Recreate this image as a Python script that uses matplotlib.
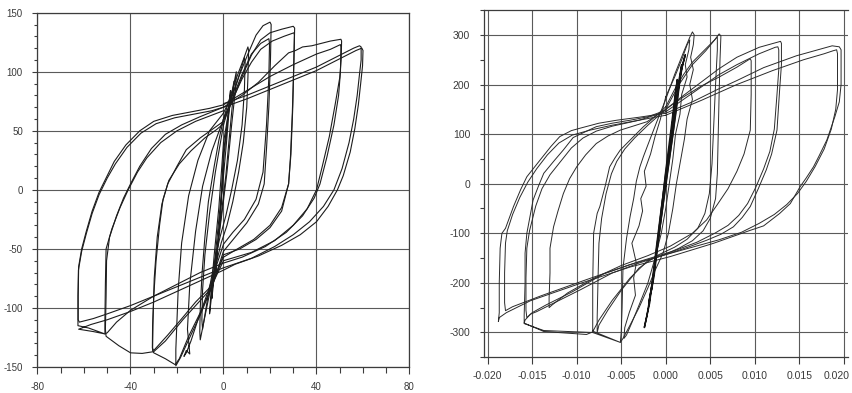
import matplotlib
matplotlib.use("Agg")
import matplotlib.pyplot as plt
import matplotlib.transforms as mtransforms
from matplotlib.ticker import MultipleLocator

plt.rcParams['font.family'] = ['Liberation Sans', 'DejaVu Sans']

# ---- left chart: load (kN) vs displacement (mm) ----
left_xticks = [-80, -40, 0, 40, 80]
left_xlabels = ["-80", "-40", "0", "40", "80"]
left_yticks = [-150, -100, -50, 0, 50, 100, 150]
left_ylabels = ["-150", "-100", "-50", "0", "50", "100", "150"]

loop_s1 = [(0, 25), (1.5, 55), (3, 84), (2.7, 74), (1.2, 38), (-0.8, -5), (-2, -35),
           (-3.3, -70), (-3, -60), (-1.5, -25), (0, 25)]
loop_s2 = [(0, 32), (2, 62), (4.5, 92), (4.2, 80), (3, 55), (1, 12), (-1.5, -30),
           (-3, -55), (-5, -92), (-4.6, -78), (-3, -45), (-1, -5), (0, 32)]
loop_s3 = [(0, 40), (2.5, 70), (5.5, 100), (5.2, 86), (3.5, 55), (1.5, 15), (-1, -25),
           (-3.5, -62), (-6, -105), (-5.5, -90), (-4, -55), (-2, -15), (0, 40)]
loop_10a = [(0, 60), (3, 80), (6, 97), (8.5, 110), (10.5, 121), (10.8, 118), (10.5, 95),
            (10, 70), (8.5, 40), (6.5, 15), (4, -10), (1.5, -30), (-1, -45), (-3.5, -65),
            (-6, -88), (-8.5, -112), (-10, -127), (-10.2, -120), (-10, -100), (-9.2, -70),
            (-8, -40), (-6.5, -10), (-4, 20), (-2, 42), (0, 60)]
loop_10b = [(0, 55), (3, 75), (6, 92), (9, 112), (9.3, 108), (9, 85), (8, 55), (6, 25),
            (3.5, 0), (1, -22), (-1.5, -40), (-4, -62), (-6.5, -88), (-9, -118),
            (-9.3, -110), (-9, -85), (-8, -55), (-6, -20), (-3.5, 15), (-1.5, 38), (0, 55)]
loop_20a = [(0, 65), (4, 82), (7, 98), (10.5, 115), (14, 131), (17, 139), (20, 142),
            (20.5, 140), (20.2, 110), (19.5, 70), (18.5, 35), (17.5, 5), (15, -12),
            (10, -28), (5, -40), (0, -52), (-5, -82), (-10, -106), (-15, -127),
            (-18.5, -142), (-20.5, -149), (-20.5, -135), (-20, -110), (-19.5, -85),
            (-18, -45), (-15, -5), (-11, 25), (-6, 50), (0, 65)]
loop_20b = [(0, 60), (4, 78), (8, 98), (12, 115), (16, 124), (19.5, 128), (19.8, 124),
            (19.5, 95), (18.5, 55), (17, 15), (14, -8), (9, -25), (4, -36), (0, -46),
            (-3, -64), (-7, -88), (-11, -110), (-14, -128), (-16, -138), (-17, -141),
            (-16, -136), (-14.5, -139), (-15.5, -118), (-14.5, -80), (-12, -35),
            (-9, 3), (-5, 33), (0, 60)]
loop_30a = [(0, 58), (4, 76), (8, 96), (12, 114), (16, 127), (20, 133), (25, 136),
            (30, 138.5), (30.6, 137), (30.3, 110), (29.8, 70), (29, 30), (28, 5),
            (25, -18), (20, -32), (14, -42), (7, -50), (0, -55), (-5, -82), (-10, -104),
            (-15, -124), (-19, -143), (-20.8, -148), (-25, -143), (-30, -138),
            (-30.5, -136), (-30.3, -110), (-29.8, -75), (-28.5, -40), (-26.5, -12),
            (-24, 5), (-20, 20), (-16, 34), (-10, 44), (-5, 51), (0, 58)]
loop_30b = [(0, 60), (4, 77), (8, 94), (12, 108), (16, 119), (21, 126), (26, 130),
            (30.3, 133), (30.5, 131), (30.2, 105), (29.6, 65), (28.8, 28), (28, 5),
            (25, -15), (20, -30), (13, -42), (6, -50), (0, -57), (-6, -83), (-12, -95),
            (-17.5, -108), (-24, -123), (-30, -136), (-30.6, -134), (-30.5, -115),
            (-30, -90), (-29, -60), (-27.5, -30), (-26, -8), (-23.5, 8), (-19, 22),
            (-14, 33), (-8, 44), (-3, 51), (0, 56)]
loop_50a = [(0, 70), (8, 80), (15, 91), (22, 105), (28, 116), (31, 118), (34, 121),
            (38, 122), (42, 124), (46, 126), (50.5, 127.5), (50.8, 126), (50.6, 110),
            (50, 95), (48, 72), (45.5, 45), (42.5, 20), (40, 0), (36, -16), (30, -30),
            (22, -43), (12, -53), (0, -60), (-6, -85), (-17.5, -110), (-25, -128),
            (-30, -137), (-35, -138.5), (-40, -138), (-45, -132), (-50.5, -124),
            (-50.8, -118), (-50.5, -90), (-50.3, -60), (-49, -40), (-46, -22), (-43, -7),
            (-40, 5), (-36, 20), (-31, 35), (-25, 47), (-18, 55), (-10, 62), (0, 70)]
loop_50b = [(0, 72), (10, 84), (20, 96), (30, 106), (40, 115), (46, 119), (50.3, 123),
            (50.5, 121), (50.3, 100), (49.5, 80), (47.5, 55), (44.5, 28), (41.5, 5),
            (39, -7), (34, -22), (27, -36), (18, -48), (8, -57), (0, -62), (-10, -70),
            (-20, -80), (-30, -90), (-40, -102), (-46, -112), (-50, -121), (-51, -122),
            (-51, -110), (-50.8, -80), (-50.5, -50), (-48, -33), (-44.5, -15), (-41, 0),
            (-37, 15), (-33, 27), (-27, 40), (-20, 50), (-12, 58), (0, 67)]
loop_60a = [(0, 73), (10, 80), (20, 88), (30, 96), (40, 104), (48, 112), (53, 117),
            (56, 120), (58.5, 122), (59.2, 121), (59.2, 110), (58.5, 98), (57.5, 80),
            (56, 60), (54, 40), (51, 18), (47.5, 0), (43, -14), (37, -27), (30, -38),
            (22, -48), (12, -58), (0, -66), (-10, -74), (-20, -82), (-30, -90),
            (-40, -98), (-50, -105), (-56, -109), (-62, -112), (-62.5, -110),
            (-62.5, -90), (-62.3, -65), (-61, -50), (-59, -35), (-56.5, -18),
            (-53.5, -2), (-50, 12), (-47, 24), (-42, 38), (-36, 50), (-30, 58),
            (-22, 63), (-14, 66), (-6, 69), (0, 72)]
loop_60b = [(0, 70), (10, 77), (20, 85), (30, 93), (40, 101), (48, 109), (53, 114),
            (57, 118), (59.5, 120), (60, 118), (59.8, 105), (59, 90), (58, 72),
            (56.5, 52), (54.5, 32), (51.5, 12), (49, 0), (45, -14), (40, -27), (33, -38),
            (25, -47), (15, -56), (5, -63), (0, -68), (-10, -77), (-20, -86), (-30, -95),
            (-40, -103), (-50, -110), (-57, -114), (-62.3, -118), (-56, -120),
            (-51, -122), (-58, -117), (-62.6, -115), (-62.6, -90), (-62.4, -68),
            (-61, -52), (-59, -37), (-56.5, -20), (-53.5, -4), (-50, 10), (-46.5, 22),
            (-41.5, 36), (-35.5, 48), (-29, 56), (-21, 61), (-13, 64), (-5, 67), (0, 70)]

left_loops = [loop_s1, loop_s2, loop_s3, loop_10a, loop_10b, loop_20a, loop_20b,
              loop_30a, loop_30b, loop_50a, loop_50b, loop_60a, loop_60b]

# ---- right chart: load vs drift ratio ----
right_xticks = [-0.020, -0.015, -0.010, -0.005, 0.0, 0.005, 0.010, 0.015, 0.020]
right_xlabels = ["-0.020", "-0.015", "-0.010", "-0.005", "0.000", "0.005", "0.010",
                 "0.015", "0.020"]
right_yticks = [-300, -200, -100, 0, 100, 200, 300]
right_ylabels = ["-300", "-200", "-100", "0", "100", "200", "300"]

r_19a = [(0, 142), (0.003, 165), (0.0057, 189), (0.008, 208), (0.011, 234),
         (0.0147, 258), (0.0175, 272), (0.0187, 278), (0.0195, 276), (0.0197, 270),
         (0.0197, 200), (0.0195, 165), (0.019, 135), (0.0181, 88), (0.0172, 55),
         (0.0166, 34), (0.0158, 12), (0.0151, -6), (0.014, -40), (0.0128, -60),
         (0.011, -85), (0.0095, -94), (0.0054, -120), (0.0005, -147), (-0.004, -168),
         (-0.0096, -201), (-0.0152, -236), (-0.0179, -260), (-0.0187, -270),
         (-0.0188, -278), (-0.0187, -260), (-0.0187, -200), (-0.0186, -130),
         (-0.0184, -100), (-0.018, -90), (-0.0171, -46), (-0.0163, -12),
         (-0.0156, 14), (-0.0141, 48), (-0.0129, 75), (-0.0119, 95), (-0.0106, 107),
         (-0.0096, 112), (-0.0075, 122), (-0.0055, 128), (-0.003, 134), (0, 142)]
r_19b = [(0, 138), (0.004, 168), (0.008, 200), (0.012, 228), (0.0155, 250),
         (0.0178, 262), (0.0188, 268), (0.0192, 270), (0.0193, 262), (0.0193, 190),
         (0.0191, 150), (0.0186, 110), (0.0178, 70), (0.0168, 35), (0.0158, 5),
         (0.0148, -20), (0.0136, -42), (0.0122, -62), (0.0105, -80), (0.0085, -98),
         (0.006, -113), (0.003, -128), (0, -143), (-0.004, -163), (-0.009, -194),
         (-0.014, -226), (-0.0172, -248), (-0.018, -256), (-0.0181, -240),
         (-0.0181, -180), (-0.018, -120), (-0.0178, -95), (-0.0172, -62),
         (-0.0164, -28), (-0.0155, 3), (-0.0145, 30), (-0.0133, 58), (-0.012, 82),
         (-0.0105, 98), (-0.0085, 108), (-0.006, 118), (-0.003, 128), (0, 138)]
r_13a = [(0, 150), (0.002, 178), (0.004, 205), (0.006, 232), (0.008, 255),
         (0.0105, 275), (0.0125, 285), (0.0129, 287), (0.013, 283), (0.013, 240),
         (0.0128, 190), (0.0125, 108), (0.0119, 60), (0.0113, 28), (0.0104, -10),
         (0.0095, -46), (0.0086, -68), (0.0076, -87), (0.0062, -102), (0.0046, -114),
         (0.0025, -128), (0.0005, -140), (-0.003, -160), (-0.006, -180),
         (-0.0096, -214), (-0.0125, -240), (-0.0145, -258), (-0.0152, -263),
         (-0.0158, -275), (-0.0159, -281), (-0.0137, -298), (-0.0089, -304),
         (-0.0081, -298), (-0.0051, -320), (-0.0082, -300), (-0.0137, -296),
         (-0.0159, -282), (-0.0159, -265), (-0.0158, -200), (-0.0158, -140),
         (-0.0156, -100), (-0.0149, -33), (-0.0143, -5), (-0.0137, 21),
         (-0.0125, 47), (-0.0115, 68), (-0.0104, 93), (-0.009, 105), (-0.0078, 115),
         (-0.006, 122), (-0.004, 128), (-0.002, 135), (0, 148)]
r_13b = [(0, 145), (0.002, 170), (0.004, 195), (0.006, 220), (0.008, 240),
         (0.0105, 262), (0.0123, 275), (0.0126, 276), (0.0127, 270), (0.0127, 230),
         (0.0125, 180), (0.0122, 110), (0.0117, 65), (0.011, 30), (0.0101, -8),
         (0.0092, -40), (0.0082, -64), (0.007, -84), (0.0055, -100), (0.0035, -118),
         (0.001, -135), (-0.003, -157), (-0.007, -182), (-0.0105, -218),
         (-0.0135, -245), (-0.015, -260), (-0.0156, -270), (-0.0157, -255),
         (-0.0157, -190), (-0.0156, -130), (-0.0153, -95), (-0.0146, -45),
         (-0.0139, -10), (-0.013, 18), (-0.0118, 45), (-0.0106, 72), (-0.0093, 92),
         (-0.0078, 106), (-0.006, 116), (-0.003, 128), (0, 145)]
r_09 = [(0, 150), (0.002, 175), (0.004, 197), (0.006, 215), (0.008, 235),
        (0.0095, 252), (0.0096, 248), (0.0096, 180), (0.0095, 108), (0.0088, 60),
        (0.008, 25), (0.007, -10), (0.0058, -42), (0.0046, -73), (0.003, -100),
        (0.0005, -126), (-0.002, -145), (-0.005, -165), (-0.008, -190),
        (-0.011, -220), (-0.0128, -245), (-0.0131, -250), (-0.0131, -230),
        (-0.013, -180), (-0.013, -130), (-0.0126, -87), (-0.0121, -55),
        (-0.0115, -20), (-0.0108, 10), (-0.01, 34), (-0.009, 58), (-0.0078, 81),
        (-0.0065, 96), (-0.0051, 108), (-0.0035, 117), (-0.0021, 125), (0, 150)]
r_06a = [(0, 155), (0.001, 190), (0.002, 220), (0.003, 245), (0.0045, 272),
         (0.0055, 290), (0.006, 302), (0.0062, 298), (0.0061, 250), (0.006, 180),
         (0.0059, 100), (0.0058, 20), (0.0056, -30), (0.005, -70), (0.0042, -95),
         (0.003, -115), (0.0015, -130), (0, -142), (-0.002, -155), (-0.004, -190),
         (-0.006, -235), (-0.0075, -275), (-0.0081, -295), (-0.0082, -298),
         (-0.0082, -280), (-0.0082, -200), (-0.0081, -100), (-0.0077, -60),
         (-0.0074, -46), (-0.0068, -5), (-0.0063, 34), (-0.0057, 52),
         (-0.0051, 68), (-0.004, 88), (-0.0025, 115), (-0.0012, 135), (0, 155)]
r_06b = [(0, 150), (0.0015, 200), (0.003, 240), (0.0045, 268), (0.0055, 290),
         (0.0058, 296), (0.0058, 270), (0.0056, 200), (0.0054, 120), (0.0052, 40),
         (0.0049, -20), (0.0044, -60), (0.0036, -90), (0.0024, -112), (0.001, -128),
         (-0.001, -145), (-0.003, -170), (-0.005, -215), (-0.0065, -255),
         (-0.0075, -285), (-0.0077, -300), (-0.0077, -270), (-0.0076, -190),
         (-0.0075, -120), (-0.0072, -70), (-0.0067, -20), (-0.0061, 20),
         (-0.0055, 45), (-0.0046, 70), (-0.0035, 92), (-0.002, 118), (0, 150)]
r_03a = [(0, 170), (0.001, 220), (0.002, 265), (0.0027, 295), (0.003, 306),
         (0.0032, 300), (0.0031, 280), (0.0028, 255), (0.0031, 230), (0.0027, 200),
         (0.003, 170), (0.0024, 130), (0.0021, 90), (0.0017, 50), (0.0012, 0),
         (0.0008, -50), (0.0003, -100), (-0.0003, -140), (-0.0012, -175),
         (-0.002, -210), (-0.003, -250), (-0.004, -285), (-0.0048, -312),
         (-0.0051, -320), (-0.005, -300), (-0.0049, -250), (-0.0048, -170),
         (-0.0044, -110), (-0.004, -66), (-0.0036, -30), (-0.0033, 5),
         (-0.0029, 34), (-0.0025, 55), (-0.0018, 88), (-0.001, 125), (0, 170)]
r_03b = [(0, 175), (0.001, 215), (0.0018, 250), (0.0024, 280), (0.0027, 290),
         (0.0026, 270), (0.0022, 240), (0.0024, 215), (0.0018, 180), (0.0016, 140),
         (0.0011, 100), (0.0008, 50), (0.0004, 0), (0, -50), (-0.0005, -100),
         (-0.0012, -150), (-0.002, -200), (-0.003, -245), (-0.0038, -280),
         (-0.0044, -305), (-0.0047, -312), (-0.0046, -290), (-0.0041, -260),
         (-0.0034, -225), (-0.0036, -190), (-0.0033, -160), (-0.0038, -120),
         (-0.003, -85), (-0.0026, -55), (-0.0028, -30), (-0.0022, -5),
         (-0.0024, 25), (-0.0017, 60), (-0.0012, 95), (-0.0006, 130), (0, 175)]
r_c1 = [(0, 0), (0.0008, 100), (0.0015, 200), (0.0018, 240), (0.0014, 200),
        (0.0008, 120), (0, 20), (-0.0008, -100), (-0.0015, -200), (-0.0019, -240),
        (-0.0015, -200), (-0.0008, -110), (0, 0)]
r_c2 = [(0, 10), (0.0005, 80), (0.001, 160), (0.0013, 210), (0.0011, 185),
        (0.0006, 110), (0, 25), (-0.0006, -70), (-0.0012, -160), (-0.0016, -215),
        (-0.0013, -185), (-0.0007, -95), (0, 10)]
r_c3 = [(0, -5), (0.0012, 150), (0.0017, 225), (0.0022, 260), (0.0019, 240),
        (0.0012, 170), (0.0005, 80), (-0.0005, -50), (-0.0012, -150),
        (-0.0018, -240), (-0.0024, -290), (-0.0021, -265), (-0.0014, -190),
        (-0.0007, -95), (0, -5)]

right_loops = [r_19a, r_19b, r_13a, r_13b, r_09, r_06a, r_06b, r_03a, r_03b]
right_core = [r_c1, r_c2, r_c3]

LINE = '#1c1c1c'
GRID = '#5a5a5a'
TXT = '#3a3a3a'
AXC = '#3c3c3c'

fig = plt.figure(figsize=(8.53, 3.93), dpi=100)
fig.patch.set_facecolor('white')


def style_axes(ax):
    for s in ax.spines.values():
        s.set_color(AXC)
        s.set_linewidth(0.9)
    ax.grid(True, which='major', color=GRID, lw=0.8)
    ax.set_axisbelow(True)


# left
ax1 = fig.add_axes([0.04396, 0.06616, 0.43611, 0.90153])
for lp in left_loops:
    xs, ys = zip(*lp)
    ax1.plot(xs, ys, color=LINE, lw=0.8)
ax1.set_xlim(-80, 80)
ax1.set_ylim(-150, 150)
ax1.set_xticks(left_xticks)
ax1.set_xticklabels(left_xlabels)
ax1.set_yticks(left_yticks)
ax1.set_yticklabels(left_ylabels)
ax1.xaxis.set_minor_locator(MultipleLocator(10))
ax1.yaxis.set_minor_locator(MultipleLocator(10))
style_axes(ax1)
ax1.tick_params(axis='x', which='major', length=4.8, width=0.8, pad=6,
                labelsize=7, labelcolor=TXT, color=AXC)
ax1.tick_params(axis='x', which='minor', length=4, width=0.8, color=AXC)
ax1.tick_params(axis='y', which='major', length=3.5, width=0.8, pad=7,
                labelsize=7, labelcolor=TXT, color=AXC)
ax1.tick_params(axis='y', which='minor', length=2.5, width=0.8, color=AXC)

# right
ax2 = fig.add_axes([0.56776, 0.09084, 0.42661, 0.88346])
for lp in right_loops:
    xs, ys = zip(*lp)
    ax2.plot(xs, ys, color='#2a2a2a', lw=0.7)
for lp in right_core:
    xs, ys = zip(*lp)
    ax2.plot(xs, ys, color='#151515', lw=1.1)
ax2.set_xlim(-0.02038, 0.0205)
ax2.set_ylim(-350, 350)
ax2.set_xticks(right_xticks)
ax2.set_xticklabels(right_xlabels)
ax2.set_yticks(right_yticks)
ax2.set_yticklabels(right_ylabels)
ax2.yaxis.set_minor_locator(MultipleLocator(50))
style_axes(ax2)
ax2.spines['right'].set_visible(False)
ax2.tick_params(axis='x', which='major', length=5, width=0.8, pad=5,
                labelsize=7.5, labelcolor=TXT, color=AXC)
ax2.tick_params(axis='y', which='major', length=3.2, width=0.8, pad=7,
                labelsize=7.5, labelcolor=TXT, color=AXC)
ax2.tick_params(axis='y', which='minor', length=3.2, width=0.8, color=AXC)

# last tick label sits at the figure edge; nudge it in so it stays whole
last = ax2.get_xticklabels()[-1]
last.set_transform(last.get_transform() +
                   mtransforms.ScaledTranslation(-5 / 72, 0, fig.dpi_scale_trans))

fig.savefig('out.png', dpi=100)
